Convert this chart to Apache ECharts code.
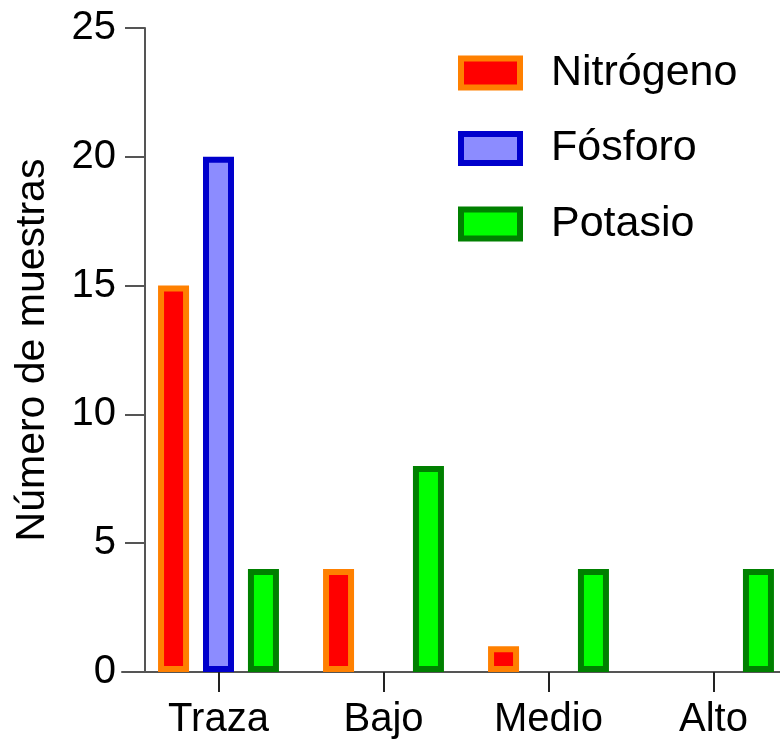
<!DOCTYPE html>
<html>
<head>
<meta charset="utf-8">
<script src="https://cdn.jsdelivr.net/npm/echarts@6/dist/echarts.min.js"></script>
<style>
html,body{margin:0;padding:0;background:#fff;}
#chart{width:780px;height:744px;}
</style>
</head>
<body>
<div id="chart"></div>
<script>
const categories = ['Traza', 'Bajo', 'Medio', 'Alto'];
const seriesNames = ['Nitrógeno', 'Fósforo', 'Potasio'];
const nitrogeno = [15, 4, 1, '-'];
const fosforo = [20, '-', '-', '-'];
const potasio = [4, 8, 4, 4];
const yTicks = [0, 5, 10, 15, 20, 25];
const yTitle = 'Número de muestras';

const FONT = '"Liberation Sans", Arial, sans-serif';
const fills = ['#ff0000', '#8c8cff', '#00ff00'];
const borders = ['#ff8000', '#0000cc', '#008000'];
const values = [nitrogeno, fosforo, potasio];

const chart = echarts.init(document.getElementById('chart'));
chart.setOption({
  animation: false,
  backgroundColor: '#fff',
  textStyle: { fontFamily: FONT, color: '#000' },
  grid: [
    { left: 136, top: 28, bottom: 72, width: 660, containLabel: false, outerBoundsMode: 'none' },
    { left: 122, top: 28, bottom: 72, right: 0, containLabel: false, outerBoundsMode: 'none' }
  ],
  legend: {
    orient: 'vertical',
    left: 458,
    top: 51,
    padding: 0,
    itemWidth: 59,
    itemHeight: 29,
    itemGap: 31.5,
    icon: 'rect',
    data: seriesNames.map((name, i) => ({
      name: name,
      itemStyle: { color: fills[i], borderColor: borders[i], borderWidth: 6 }
    })),
    textStyle: { fontSize: 43, lineHeight: 44, fontFamily: FONT, color: '#000', padding: [0, 0, 0, 26] }
  },
  xAxis: [
    {
      type: 'category',
      gridIndex: 0,
      data: categories,
      axisLine: { show: false },
      axisTick: { show: true, alignWithLabel: true, length: 20, lineStyle: { color: '#222', width: 2 } },
      axisLabel: { fontSize: 40, color: '#000', fontFamily: FONT, margin: 28 },
      splitLine: { show: false }
    },
    {
      type: 'value',
      gridIndex: 1,
      min: 0, max: 1,
      axisLine: { show: true, lineStyle: { color: '#555', width: 2 } },
      axisTick: { show: false },
      axisLabel: { show: false },
      splitLine: { show: false }
    }
  ],
  yAxis: [
    {
      type: 'value',
      gridIndex: 0,
      min: yTicks[0],
      max: yTicks[yTicks.length - 1],
      interval: 5,
      offset: -9,
      name: yTitle,
      nameLocation: 'middle',
      nameGap: 92,
      nameTextStyle: { fontSize: 41, color: '#000', fontFamily: FONT },
      axisLine: { show: true, lineStyle: { color: '#555', width: 2 } },
      axisTick: { show: true, length: 20, lineStyle: { color: '#555', width: 2 } },
      axisLabel: { fontSize: 40, color: '#000', fontFamily: FONT, margin: 29 },
      splitLine: { show: false }
    },
    {
      type: 'value',
      gridIndex: 1,
      show: false
    }
  ],
  series: seriesNames.map((name, i) => ({
    name: name,
    type: 'bar',
    xAxisIndex: 0,
    yAxisIndex: 0,
    data: values[i],
    barWidth: 31,
    barGap: '45%',
    itemStyle: { color: fills[i], borderColor: borders[i], borderWidth: 6 }
  }))
});
</script>
</body>
</html>
